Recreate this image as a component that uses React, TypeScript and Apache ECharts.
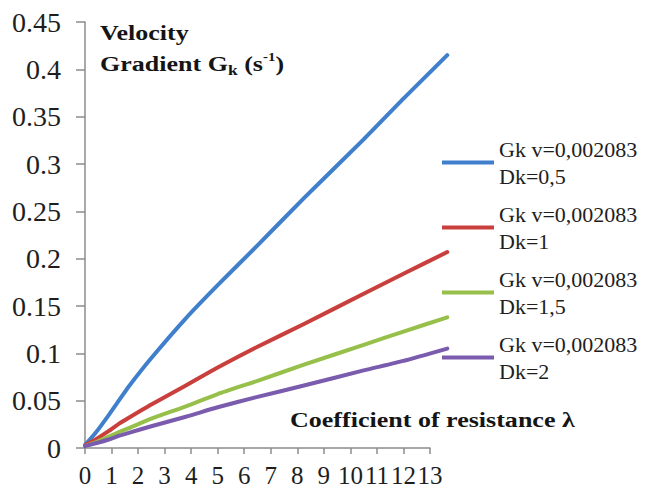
import React, { useEffect, useRef } from "react";
import * as echarts from "echarts";

// Coefficient of resistance λ (x) sampled for every curve
const lambda = [0, 0.4, 0.9, 1.3, 1.65, 2.5, 3.8, 5, 6.5, 8.25, 10.5, 12, 13.65];

// Velocity gradient Gk for each pipe diameter Dk
const gkDk05 = [0.003, 0.016, 0.035, 0.051, 0.065, 0.095, 0.137, 0.172, 0.214, 0.264, 0.326, 0.369, 0.415];
const gkDk1 = [0.003, 0.009, 0.018, 0.026, 0.032, 0.046, 0.066, 0.085, 0.107, 0.131, 0.163, 0.184, 0.207];
const gkDk15 = [0.002, 0.006, 0.012, 0.017, 0.021, 0.031, 0.044, 0.057, 0.071, 0.088, 0.109, 0.123, 0.138];
const gkDk2 = [0.002, 0.005, 0.009, 0.013, 0.016, 0.023, 0.033, 0.043, 0.054, 0.066, 0.082, 0.092, 0.105];

// Axis ranges: the labelled axis runs to 13, the curves run a little past it
const xLabelMax = 13;
const xDataMax = 13.65;
const yMax = 0.45;
const yStep = 0.05;

const seriesNames = [
  "Gk v=0,002083\nDk=0,5",
  "Gk v=0,002083\nDk=1",
  "Gk v=0,002083\nDk=1,5",
  "Gk v=0,002083\nDk=2",
];
const seriesValues = [gkDk05, gkDk1, gkDk15, gkDk2];
const seriesColors = ["#3F7FCB", "#C93F3C", "#97C04B", "#7A5BAD"];

const SERIF = '"Liberation Serif", "Times New Roman", serif';
const AXIS_GREY = "#8c8c8c";

export default function App() {
  const ref = useRef<HTMLDivElement>(null);

  useEffect(() => {
    if (!ref.current) return;
    const chart = echarts.init(ref.current, null, { renderer: "svg" });

    const plotLeft = 85;
    const plotTop = 22;
    const plotBottom = 47;
    const pxPerUnit = 345 / xLabelMax; // labelled axis spans 85 → 430
    const labelRight = 650 - (plotLeft + pxPerUnit * xLabelMax);
    const dataRight = 650 - (plotLeft + pxPerUnit * xDataMax);

    const series = seriesValues.map((vals, i) => ({
      name: seriesNames[i],
      type: "line" as const,
      xAxisIndex: 1,
      yAxisIndex: 1,
      data: vals.map((v, j) => [lambda[j], v]),
      symbol: "none",
      showSymbol: false,
      smooth: 0.2,
      lineStyle: { width: 4, color: seriesColors[i], cap: "round", join: "round" },
      itemStyle: { color: seriesColors[i] },
    }));

    chart.setOption({
      animation: false,
      backgroundColor: "#ffffff",
      grid: [
        { left: plotLeft, right: labelRight, top: plotTop, bottom: plotBottom },
        { left: plotLeft, right: dataRight, top: plotTop, bottom: plotBottom },
      ],
      xAxis: [
        {
          type: "value",
          gridIndex: 0,
          min: 0,
          max: xLabelMax,
          interval: 1,
          splitLine: { show: false },
          axisLine: { show: true, lineStyle: { color: AXIS_GREY, width: 1.5 } },
          axisTick: { show: true, length: 6, lineStyle: { color: AXIS_GREY, width: 1.5 } },
          axisLabel: {
            fontFamily: SERIF,
            fontSize: 25,
            color: "#1e1e1e",
            margin: 15,
            hideOverlap: false,
          },
        },
        {
          type: "value",
          gridIndex: 1,
          min: 0,
          max: xDataMax,
          show: false,
        },
      ],
      yAxis: [
        {
          type: "value",
          gridIndex: 0,
          min: 0,
          max: yMax,
          interval: yStep,
          splitLine: { show: false },
          axisLine: { show: true, lineStyle: { color: AXIS_GREY, width: 1.5 } },
          axisTick: { show: true, length: 9, lineStyle: { color: AXIS_GREY, width: 1.5 } },
          axisLabel: {
            fontFamily: SERIF,
            fontSize: 28,
            color: "#1e1e1e",
            margin: 24,
            formatter: (v: number) => String(+v.toFixed(2)),
          },
        },
        {
          type: "value",
          gridIndex: 1,
          min: 0,
          max: yMax,
          show: false,
        },
      ],
      legend: {
        orient: "vertical",
        left: 442,
        top: 122,
        padding: 0,
        itemGap: -16,
        itemWidth: 52,
        itemHeight: 4,
        icon: "rect",
        data: seriesNames,
        textStyle: {
          fontFamily: SERIF,
          fontSize: 22,
          lineHeight: 27,
          color: "#1e1e1e",
          padding: [27, 0, 0, 0],
        },
      },
      graphic: [
        {
          type: "text",
          x: 100,
          y: 33,
          scaleX: 1.24,
          style: {
            text: "Velocity",
            font: `bold 21px ${SERIF}`,
            fill: "#151515",
            verticalAlign: "middle",
          },
        },
        {
          type: "text",
          x: 100,
          y: 64,
          scaleX: 1.24,
          style: {
            text: "{b|Gradient G}{k|k}{b| (s}{e|-1}{b|)}",
            verticalAlign: "middle",
            fill: "#151515",
            rich: {
              b: { font: `bold 21px ${SERIF}`, lineHeight: 26, fill: "#151515" },
              k: { font: `bold 14px ${SERIF}`, lineHeight: 26, verticalAlign: "bottom", fill: "#151515" },
              e: { font: `bold 12px ${SERIF}`, lineHeight: 26, verticalAlign: "top", fill: "#151515" },
            },
          },
        },
        {
          type: "text",
          x: 290,
          y: 420,
          scaleX: 1.24,
          style: {
            text: "Coefficient of resistance λ",
            font: `bold 21px ${SERIF}`,
            fill: "#151515",
            verticalAlign: "middle",
          },
        },
      ],
      series,
    });

    return () => chart.dispose();
  }, []);

  return (
    <div
      ref={ref}
      style={{ position: "fixed", left: 0, top: 0, width: 650, height: 495, background: "#fff" }}
    />
  );
}
